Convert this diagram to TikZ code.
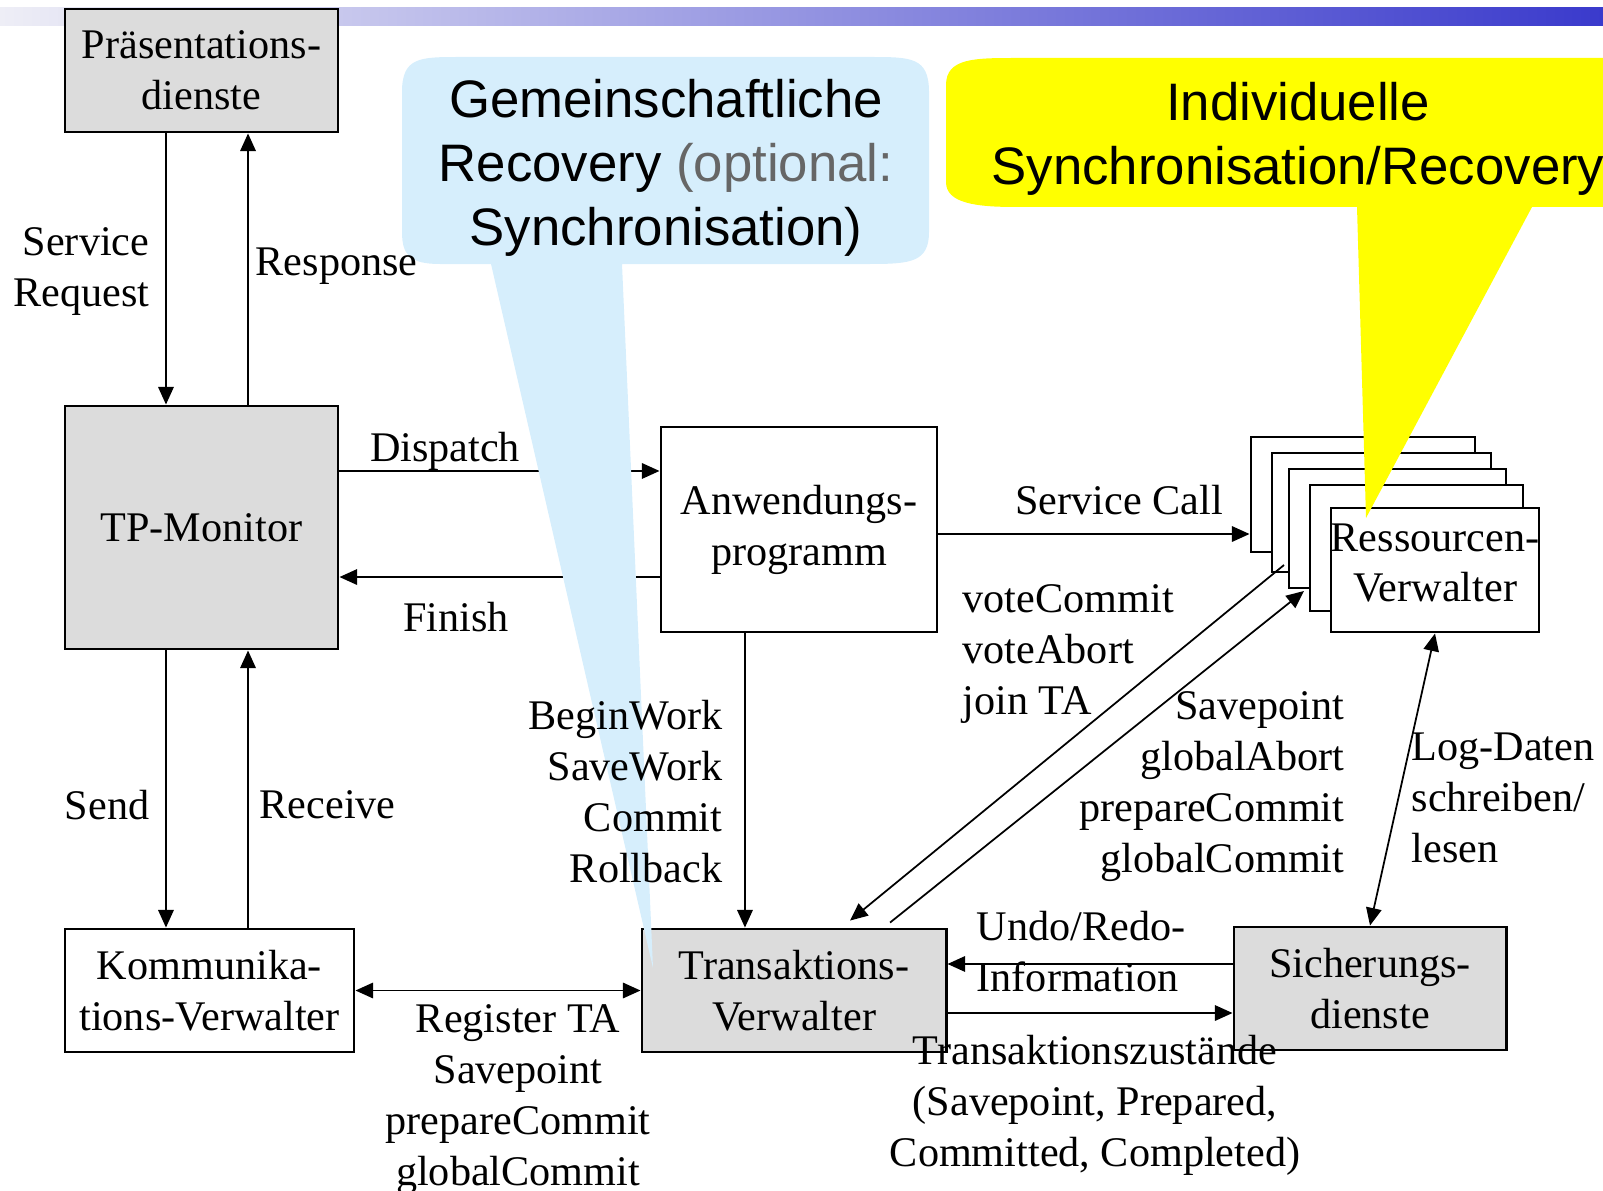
\documentclass[tikz,border=0pt]{standalone}
\usepackage{fontspec}
\setmainfont{Liberation Serif}
\newfontfamily\bubblefont{Liberation Sans}
\usetikzlibrary{arrows.meta}
\definecolor{boxgrey}{RGB}{220,220,220}
\definecolor{bubbleblue}{RGB}{214,238,252}
\definecolor{bubbleyellow}{RGB}{255,255,0}
\definecolor{optgrey}{RGB}{102,102,102}
\definecolor{bargrey}{RGB}{238,238,246}
\definecolor{barblue}{RGB}{58,58,204}

\begin{document}
\begin{tikzpicture}[
  x=0.01cm, y=-0.01cm,
  >={Triangle[length=5pt,width=4.4pt]},
  font=\fontsize{12}{14.5}\selectfont,
  box/.style={draw,line width=0.8pt,fill=white,align=center,inner sep=0pt},
  gbox/.style={box,fill=boxgrey},
  flow/.style={line width=0.5pt},
  lbl/.style={inner sep=0pt},
  bubble/.style={font=\bubblefont\fontsize{15}{18.2}\selectfont,align=center,inner sep=0pt}]

  \useasboundingbox (0,0) rectangle (1603,1191);
  % title bar
  \shade[left color=bargrey,right color=barblue] (0,8) rectangle (1603,26);

  % components
  \node[gbox,minimum width=2.73cm,minimum height=1.23cm] (praes) at (201.5,70.5) {Präsentations-\\dienste};
  \node[gbox,minimum width=2.73cm,minimum height=2.43cm] (tp) at (201.5,527.5) {TP-Monitor};
  \node[box,minimum width=2.89cm,minimum height=1.23cm] (komm) at (209.5,990.5) {Kommunika-\\tions-Verwalter};
  \node[box,minimum width=2.76cm,minimum height=2.05cm] (anw) at (799,529.5) {Anwendungs-\\programm};
  \node[gbox,minimum width=3.04cm,minimum height=1.23cm] (tv) at (794,990.5) {Transaktions-\\Verwalter};
  \node[gbox,minimum width=2.72cm,minimum height=1.23cm] (sich) at (1370,988.5) {Sicherungs-\\dienste};
  % stack of resource managers, back to front
  \foreach \x/\y/\w/\h [count=\i] in {1363/494.5/2.24/1.15, 1381.5/512.5/2.19/1.19,
      1397.5/528.5/2.17/1.19, 1416.5/548/2.13/1.26}
    \node[box,minimum width=\w cm,minimum height=\h cm] (rm\i) at (\x,\y) {};
  \node[box,minimum width=2.08cm,minimum height=1.24cm] (rm) at (1435,570) {};
  \node[lbl,align=center] (rmtext) at (1435,563) {Ressourcen-\\Verwalter};
  \coordinate (rmin) at (1284,565);
  \coordinate (rmout) at (1304,591);

  % connectors
  \draw[flow,->] ([xshift=-0.355cm]praes.south) -- ([xshift=-0.355cm]praes.south |- tp.north);
  \draw[flow,->] ([xshift=0.465cm]tp.north) -- ([xshift=0.465cm]tp.north |- praes.south);
  \draw[flow,->] ([xshift=-0.355cm]tp.south) -- ([xshift=-0.355cm]tp.south |- komm.north);
  \draw[flow,->] ([xshift=0.465cm]tp.south |- komm.north) -- ([xshift=0.465cm]tp.south);
  \draw[flow,->] ([yshift=0.565cm]tp.east) -- ([yshift=0.565cm]tp.east -| anw.west);
  \draw[flow,->] ([yshift=-0.495cm]tp.east -| anw.west) -- ([yshift=-0.495cm]tp.east);
  \draw[flow,->] ([yshift=-0.045cm]anw.east) -- ([yshift=-0.045cm]anw.east -| rm1.west);
  \draw[flow,->] ([xshift=-0.54cm]anw.south) -- ([xshift=-0.54cm]anw.south |- tv.north);
  \draw[flow,->] (rmin) -- ([xshift=0.56cm,yshift=0.07cm]tv.north);
  \draw[flow,->] ([xshift=0.96cm,yshift=0.05cm]tv.north) -- (rmout);
  \draw[flow,<->] (rm.south) -- (sich.north);
  \draw[flow,->] ([yshift=0.245cm]sich.west) -- ([yshift=0.245cm]sich.west -| tv.east);
  \draw[flow,->] ([yshift=-0.225cm]tv.east) -- ([yshift=-0.225cm]tv.east -| sich.west);
  \draw[flow,<->] (komm.east) -- (tv.west);

  % speech bubbles
  \fill[bubbleblue] (402,92) .. controls (402,57) and (420,57) .. (460,57) -- (870,57)
    .. controls (911,57) and (929,57) .. (929,92) -- (929,232)
    .. controls (929,262) and (911,264) .. (870,264) -- (622,264) -- (653,968) -- (491,264)
    -- (440,264) .. controls (410,264) and (402,255) .. (402,232) -- cycle;
  \node[bubble] (gemtext) at (666,168)
    {Gemeinschaftliche\\Recovery {\color{optgrey}(optional:}\\Synchronisation)};
  \fill[bubbleyellow] (946,85) .. controls (946,58) and (975,58) .. (1016,58) -- (1640,58)
    -- (1640,207) -- (1532,207) -- (1366,518) -- (1357,207) -- (1016,207)
    .. controls (975,207) and (946,203) .. (946,182) -- cycle;
  \node[bubble] (indtext) at (1298,139) {Individuelle\\Synchronisation/Recovery};

  % labels
  \node[lbl,anchor=east,align=right] (svcreq) at (150,272) {Service\\Request};
  \node[lbl,anchor=west] (resp) at (255,266) {Response};
  \node[lbl] (dispatch) at (445,451) {Dispatch};
  \node[lbl] (finish) at (456,617) {Finish};
  \node[lbl] (svccall) at (1119,500) {Service Call};
  \node[lbl,anchor=east,align=right] (tacalls) at (723,792) {BeginWork\\SaveWork\\Commit\\Rollback};
  \node[lbl,anchor=west,align=left] (votes) at (962,654) {voteCommit\\voteAbort\\join TA};
  \node[lbl,anchor=east,align=right] (rmcalls) at (1345,787) {Savepoint\\globalAbort\\prepareCommit\\globalCommit};
  \node[lbl,anchor=west,align=left] (logdaten) at (1411,798) {Log-Daten\\schreiben/\\lesen};
  \node[lbl,anchor=west,align=left] (undo) at (976,952) {Undo/Redo-\\Information};
  \node[lbl,align=center] (states) at (1095,1105) {Transaktionszustände\\(Savepoint, Prepared,\\Committed, Completed)};
  \node[lbl,anchor=east] (send) at (150,805) {Send};
  \node[lbl,anchor=west] (receive) at (259,805) {Receive};
  \node[lbl,align=center] (register) at (518,1100) {Register TA\\Savepoint\\prepareCommit\\globalCommit};
\end{tikzpicture}
\end{document}
